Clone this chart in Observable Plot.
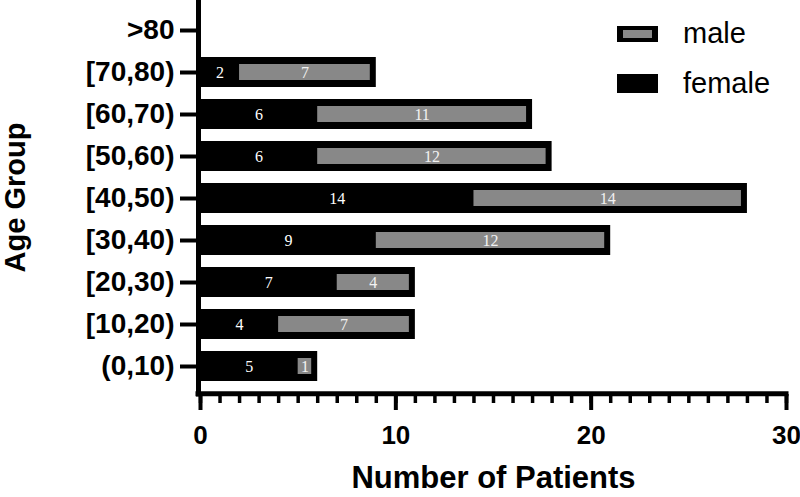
<!DOCTYPE html>
<html>
<head>
<meta charset="utf-8">
<script src="https://cdn.jsdelivr.net/npm/d3@7"></script>
<script src="https://cdn.jsdelivr.net/npm/@observablehq/plot@0.6"></script>
<style>
  html, body { margin: 0; padding: 0; background: #fff; }
  #wrap { position: relative; width: 800px; height: 497px; font-family: "Liberation Sans", Arial, sans-serif; }
  .legend { position: absolute; left: 617px; font-size: 29px; color: #000; }
  .legend .row { position: absolute; left: 0; display: flex; align-items: center; white-space: nowrap; }
  .legend .sw { width: 41px; box-sizing: border-box; margin-right: 25px; }
</style>
</head>
<body>
<div id="wrap"></div>
<script>
// Data
const ages = ["(0,10)", "[10,20)", "[20,30)", "[30,40)", "[40,50)", "[50,60)", "[60,70)", "[70,80)", ">80"];
const female = [5, 4, 7, 9, 14, 6, 6, 2, 0];
const male = [1, 7, 4, 12, 14, 12, 11, 7, 0];
const xTicks = [0, 10, 20, 30];
const seriesNames = ["male", "female"];

const rows = ages.map((a, i) => ({age: a, female: female[i], male: male[i], total: female[i] + male[i]}));
const barRows = rows.filter(d => d.total > 0);

const font = "Liberation Sans, Arial, sans-serif";
const serif = "Liberation Serif, Times New Roman, serif";

const chart = Plot.plot({
  width: 800,
  height: 497,
  marginLeft: 200,
  marginRight: 14,
  marginTop: 0,
  marginBottom: 103,
  style: {fontFamily: font, background: "white", color: "black", overflow: "visible"},
  x: {domain: [0, 30]},
  y: {type: "band", domain: ages.slice().reverse(), range: [2.75, 394], paddingInner: 0.29, paddingOuter: 0.29},
  marks: [
    // full bar (black, forms female part + outline of male part)
    Plot.barX(barRows, {y: "age", x1: 0, x2: "total", fill: "black"}),
    // male part (grey, inset inside black outline)
    Plot.barX(barRows.filter(d => d.male > 0), {y: "age", x1: "female", x2: "total", fill: "#888888", insetTop: 7, insetBottom: 7, insetRight: 6}),
    // value labels
    Plot.text(barRows.filter(d => d.female > 0), {y: "age", x: d => d.female / 2, text: d => String(d.female), fill: "white", fontFamily: serif, fontSize: 16}),
    Plot.text(barRows.filter(d => d.male > 0), {y: "age", x: d => d.female + d.male / 2, dx: -3, text: d => String(d.male), fill: "#f2f2f2", fontFamily: serif, fontSize: 16}),
    // axis lines
    Plot.ruleX([0], {dx: -2, stroke: "black", strokeWidth: 5, insetBottom: -2.5}),
    Plot.ruleY([ages[0]], {x1: 0, x2: 30, dy: 27.2, stroke: "black", strokeWidth: 5, insetLeft: -4.5, insetRight: -2.5}),
    // y axis
    Plot.axisY({tickSize: 20, strokeWidth: 4, tickPadding: 6, fontSize: 28, fontWeight: "bold", fontFamily: font, label: null}),
    // x axis minor ticks
    Plot.axisX({ticks: d3.range(0, 31), tickSize: 9, strokeWidth: 3.5, tickFormat: () => "", label: null}),
    // x axis major ticks
    Plot.axisX({ticks: xTicks, tickSize: 16, strokeWidth: 4, tickPadding: 15, fontSize: 26, fontWeight: "bold", fontFamily: font, label: null}),
    // axis titles
    Plot.text(["Number of Patients"], {frameAnchor: "bottom", lineAnchor: "middle", dy: 84, fontSize: 31, fontWeight: "bold", fontFamily: font, fill: "black"}),
    Plot.text(["Age Group"], {frameAnchor: "left", textAnchor: "middle", lineAnchor: "middle", dx: -185, dy: 0, rotate: -90, fontSize: 29, fontWeight: "bold", fontFamily: font, fill: "black"})
  ]
});

const wrap = document.getElementById("wrap");
wrap.appendChild(chart);

// Legend
const legend = document.createElement("div");
legend.className = "legend";
legend.style.top = "0px";
const swatchStyles = {
  male: {top: 17, h: 16, css: "background:#888888;border-style:solid;border-color:#000;border-width:4px 6px;"},
  female: {top: 67, h: 19, css: "background:#000;"}
};
seriesNames.forEach(name => {
  const s = swatchStyles[name];
  const row = document.createElement("div");
  row.className = "row";
  row.style.top = s.top + "px";
  row.innerHTML = `<div class="sw" style="height:${s.h}px;${s.css}"></div><span>${name}</span>`;
  legend.appendChild(row);
});
wrap.appendChild(legend);
</script>
</body>
</html>
